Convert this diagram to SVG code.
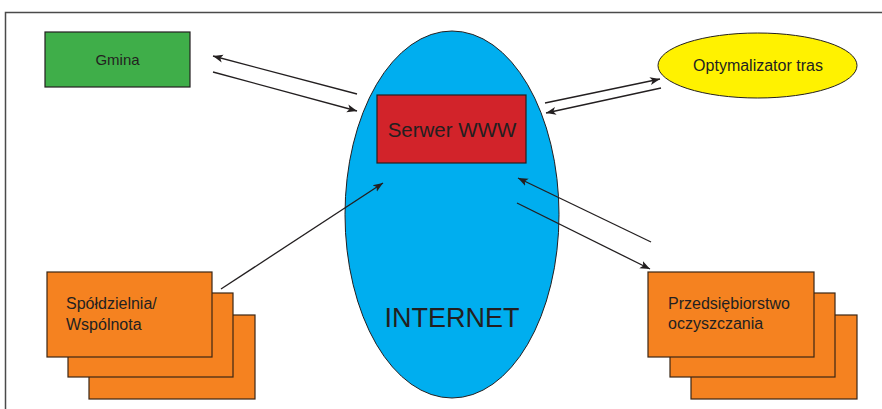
<svg xmlns="http://www.w3.org/2000/svg" width="882" height="409" viewBox="0 0 882 409">
  <defs>
    <marker id="arrow" viewBox="0 0 10 10" refX="10" refY="5" markerWidth="10" markerHeight="10" markerUnits="userSpaceOnUse" orient="auto">
      <path d="M0,1 L10,5 L0,9 L2.5,5 Z" fill="#231f20"/>
    </marker>
  </defs>
  <style>
    text { font-family: "Liberation Sans", Arial, sans-serif; fill: #231f20; }
    .box { stroke: #231f20; stroke-width: 1.2; }
    .stack { fill: #f58220; stroke: #3b2614; stroke-width: 1.2; }
    .link { stroke: #231f20; stroke-width: 1.3; fill: none; marker-end: url(#arrow); }
    .plain { stroke: #231f20; stroke-width: 1.3; fill: none; }
  </style>

  <rect width="882" height="409" fill="#ffffff"/>
  <!-- frame -->
  <path d="M5.5,409 V12.5 H882" fill="none" stroke="#4a4a4a" stroke-width="1.5"/>

  <g id="internet">
    <ellipse cx="452" cy="214.5" rx="107" ry="183.5" fill="#00aeef" stroke="#231f20" stroke-width="1"/>
    <text x="452" y="327" font-size="27" text-anchor="middle">INTERNET</text>
  </g>

  <g id="serwer">
    <rect class="box" x="377" y="95" width="149" height="68" fill="#d2232a"/>
    <text x="452" y="137" font-size="20.5" text-anchor="middle">Serwer WWW</text>
  </g>

  <g id="gmina">
    <rect class="box" x="45" y="32" width="145" height="55" fill="#3fae49"/>
    <text x="117.5" y="65" font-size="15" text-anchor="middle">Gmina</text>
  </g>

  <g id="optymalizator">
    <ellipse cx="757.5" cy="65.5" rx="99.5" ry="32.5" fill="#fff200" stroke="#231f20" stroke-width="1"/>
    <text x="758" y="71" font-size="16" text-anchor="middle">Optymalizator tras</text>
  </g>

  <g id="spoldzielnia">
    <rect class="stack" x="89" y="315" width="166" height="84"/>
    <rect class="stack" x="68" y="293" width="165" height="84"/>
    <rect class="stack" x="47" y="272" width="165" height="85"/>
    <text x="66" y="309" font-size="16">Spółdzielnia/</text>
    <text x="66" y="330" font-size="16">Wspólnota</text>
  </g>

  <g id="przedsiebiorstwo">
    <rect class="stack" x="691" y="315" width="166" height="84"/>
    <rect class="stack" x="670" y="293" width="165" height="84"/>
    <rect class="stack" x="648" y="272" width="166" height="85"/>
    <text x="668" y="309" font-size="16">Przedsiębiorstwo</text>
    <text x="668" y="329" font-size="16">oczyszczania</text>
  </g>

  <g id="connectors">
    <line class="link" x1="357" y1="94" x2="213" y2="56"/>
    <line class="link" x1="213" y1="72" x2="357" y2="111"/>
    <line class="link" x1="545" y1="103" x2="660" y2="79"/>
    <line class="link" x1="661" y1="88" x2="546" y2="113"/>
    <line class="link" x1="221" y1="289" x2="383" y2="183"/>
    <line class="link" x1="651" y1="242" x2="518" y2="178"/>
    <line class="link" x1="517" y1="203" x2="650" y2="269"/>
  </g>
</svg>
